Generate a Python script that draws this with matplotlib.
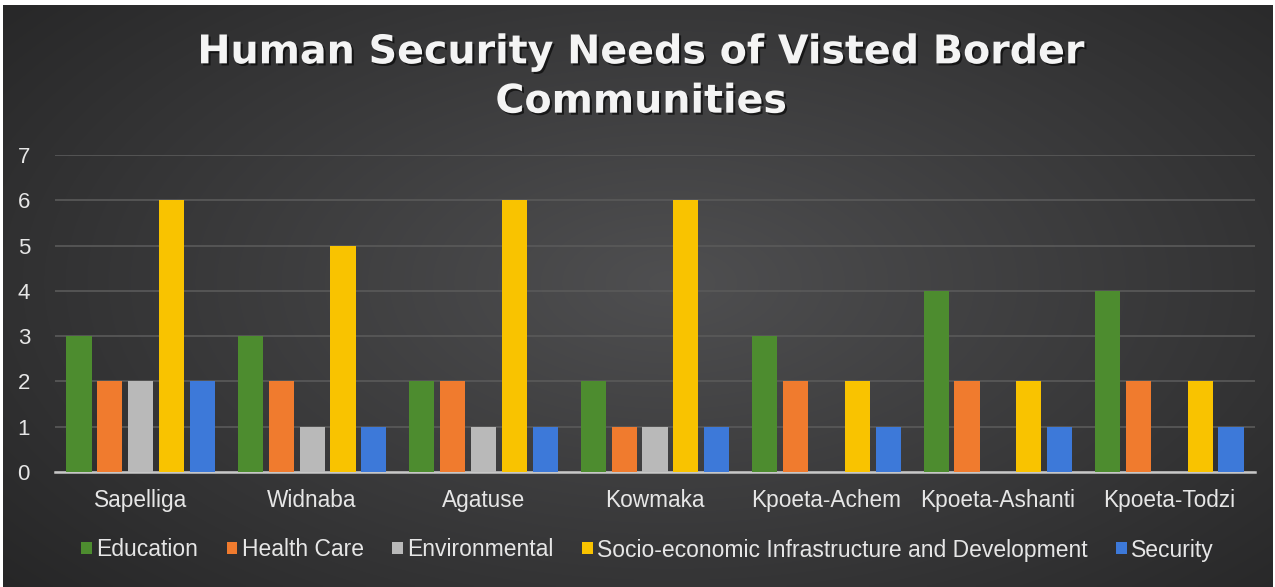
import numpy as np
import matplotlib
matplotlib.use("Agg")
import matplotlib.pyplot as plt
from matplotlib import patheffects as pe
from matplotlib.patches import Patch

communities = ["Sapelliga", "Widnaba", "Agatuse", "Kowmaka",
               "Kpoeta-Achem", "Kpoeta-Ashanti", "Kpoeta-Todzi"]
series_names = ["Education", "Health Care", "Environmental",
                "Socio-economic Infrastructure and Development", "Security"]
education = [3, 3, 2, 2, 3, 4, 4]
health_care = [2, 2, 2, 1, 2, 2, 2]
environmental = [2, 1, 1, 1, 0, 0, 0]
socio_economic = [6, 5, 6, 6, 2, 2, 2]
security = [2, 1, 1, 1, 1, 1, 1]
y_ticks = [0, 1, 2, 3, 4, 5, 6, 7]
title = "Human Security Needs of Visted Border\nCommunities"

colors = ["#4d8c2f", "#f07b2e", "#b9b9b9", "#f9c300", "#3d79d9"]
all_series = [education, health_care, environmental, socio_economic, security]

W, H = 1275, 587
fig = plt.figure(figsize=(W / 100, H / 100), dpi=100)
fig.patch.set_facecolor("white")

# background gradient
bg = fig.add_axes([3 / W, 0, 1 - 5 / W, 1 - 5 / H], zorder=0)
yy, xx = np.mgrid[0:200, 0:400]
cx, cy = 210, 95
d = np.sqrt(((xx - cx) / 260.0) ** 2 + ((yy - cy) / 150.0) ** 2)
val = 0.31 - 0.15 * np.clip(d, 0, 1.2)
img = np.dstack([val, val, val * 1.02])
bg.imshow(np.clip(img, 0, 1), aspect="auto", extent=[0, 1, 0, 1], interpolation="bilinear")
bg.set_axis_off()

ax = fig.add_axes([55 / W, 1 - 472 / H, 1200 / W, (472 - 155) / H], zorder=1)
ax.set_facecolor("none")

x = np.arange(len(communities))
bw = 0.146
step = 0.18
for i, (vals, c, name) in enumerate(zip(all_series, colors, series_names)):
    ax.bar(x + (i - 2) * step, vals, width=bw, color=c, label=name, zorder=3)

ax.set_xlim(-0.5, len(communities) - 0.5)
ax.set_ylim(0, 7)
ax.set_yticks(y_ticks)
ax.set_yticklabels([str(t) for t in y_ticks])
ax.set_xticks(x)
ax.set_xticklabels(communities)
ax.grid(axis="y", color="#5a5a5a", linewidth=1.2, zorder=0)
ax.set_axisbelow(True)
for s in ["top", "right", "left"]:
    ax.spines[s].set_visible(False)
ax.spines["bottom"].set_color("#c8c8c8")
ax.spines["bottom"].set_linewidth(1.8)
ax.tick_params(axis="both", length=0)
ax.tick_params(axis="y", pad=18, labelsize=16, labelcolor="#e6e6e6")
ax.tick_params(axis="x", pad=12, labelsize=16.3, labelcolor="#e6e6e6")
for lab in ax.get_xticklabels() + ax.get_yticklabels():
    lab.set_family("Liberation Sans")

handles = [Patch(facecolor=c, edgecolor="none") for c in colors]
leg = fig.legend(handles, series_names, loc="center", bbox_to_anchor=(0.508, 1 - 550 / H),
                 ncol=5, frameon=False, handlelength=0.45, handleheight=0.45,
                 handletextpad=0.2, columnspacing=1.25,
                 prop={"family": "Liberation Sans", "size": 16.5})
for t in leg.get_texts():
    t.set_color("#e6e6e6")

fig.text(0.503, 1 - 77 / H, title, ha="center", va="center", color="#f4f4f4",
         fontsize=28.5, fontweight="bold", family="DejaVu Sans", linespacing=1.3,
         path_effects=[pe.withSimplePatchShadow(offset=(1.5, -1.5), shadow_rgbFace="black", alpha=0.6)])

fig.savefig("out.png", dpi=100, facecolor=fig.get_facecolor())
